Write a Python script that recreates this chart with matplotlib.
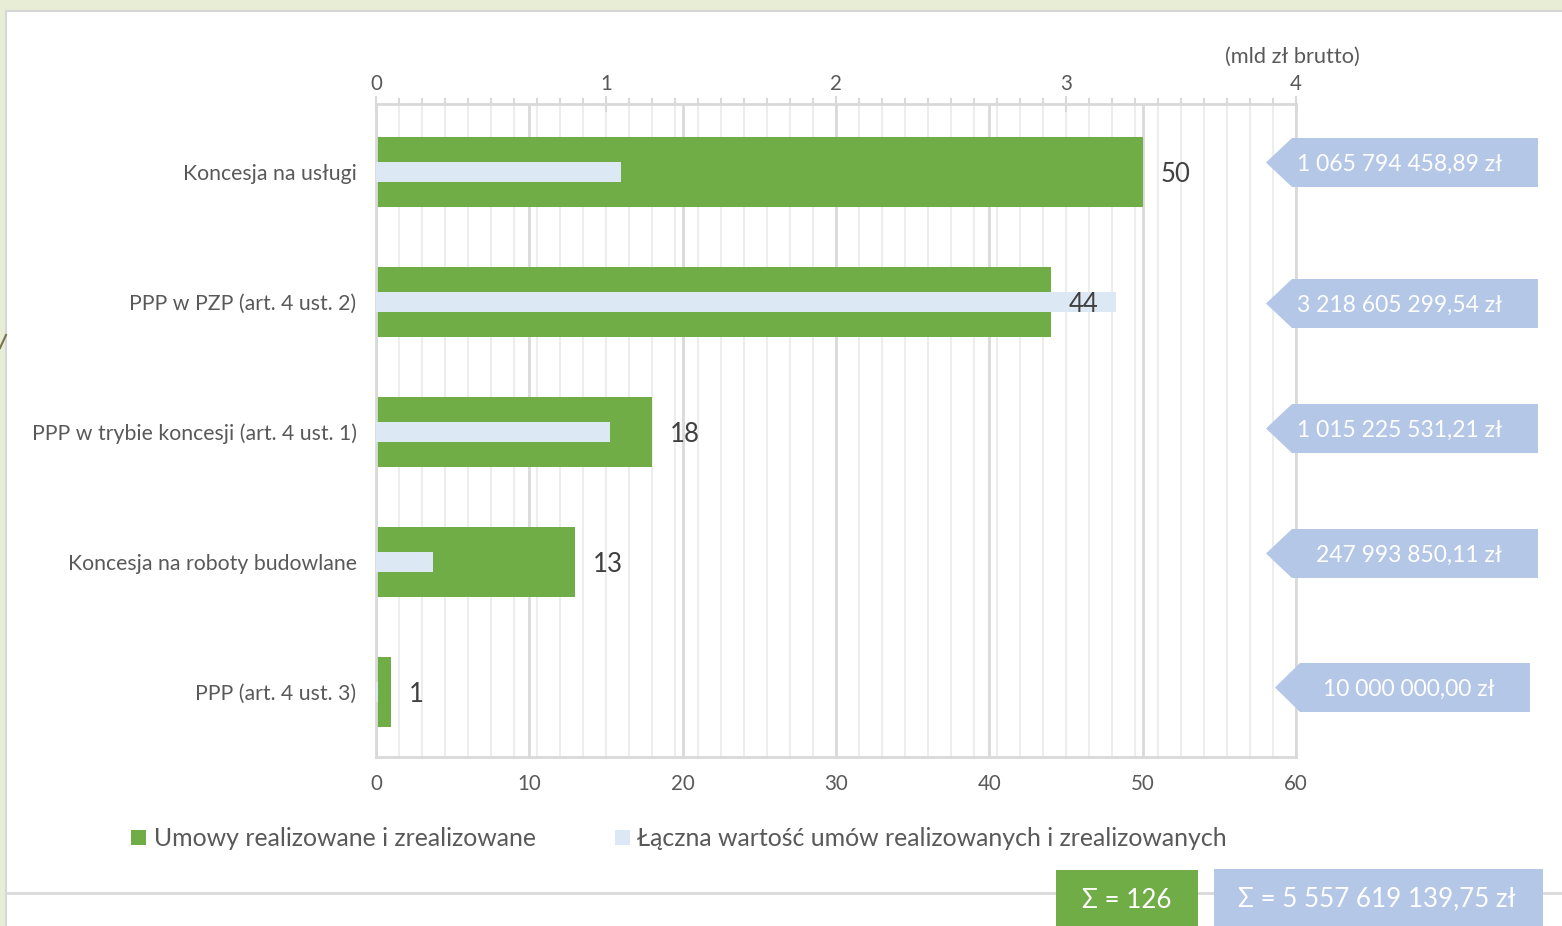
import matplotlib
matplotlib.use("Agg")
import matplotlib.pyplot as plt
from matplotlib.patches import Polygon, Rectangle
from matplotlib.lines import Line2D
import matplotlib.ticker as mt
import matplotlib.transforms as mtrans

# ---------------- data ----------------
categories = [
    "Koncesja na usługi",
    "PPP w PZP (art. 4 ust. 2)",
    "PPP w trybie koncesji (art. 4 ust. 1)",
    "Koncesja na roboty budowlane",
    "PPP (art. 4 ust. 3)",
]
counts = [50, 44, 18, 13, 1]
values_mld = [1.06579445889, 3.21860529954, 1.01522553121, 0.24799385011, 0.01]
value_labels = [
    "1 065 794 458,89 zł",
    "3 218 605 299,54 zł",
    "1 015 225 531,21 zł",
    "247 993 850,11 zł",
    "10 000 000,00 zł",
]
count_ticks = [0, 10, 20, 30, 40, 50, 60]
value_ticks = [0, 1, 2, 3, 4]
legend_labels = ["Umowy realizowane i zrealizowane",
                 "Łączna wartość umów realizowanych i zrealizowanych"]
unit_label = "(mld zł brutto)"
total_count_label = "Σ = 126"
total_value_label = "Σ = 5 557 619 139,75 zł"

# ---------------- style ----------------
GREEN = "#70ad47"
LIGHT = "#dde8f5"
BOXBLUE = "#b4c7e7"
TXT = "#595959"
GRID = "#d9d9d9"
GRIDMIN = "#ededed"
FONT = ["Lato", "DejaVu Sans"]
plt.rcParams["font.family"] = FONT

W, H = 1562, 926
fig = plt.figure(figsize=(W / 100, H / 100), dpi=100)
fig.patch.set_facecolor("#e8eed6")


def fx(x):
    return x / W


def fy(y):
    return 1 - y / H


# white panel
fig.add_artist(Rectangle((fx(6), 0), 1 - fx(6), fy(11), transform=fig.transFigure,
                         facecolor="white", edgecolor="none", zorder=0))
fig.add_artist(Line2D([fx(6), 1], [fy(11), fy(11)], transform=fig.transFigure,
                      color="#d6d6d6", lw=1.5, zorder=0.1))
fig.add_artist(Line2D([fx(6), fx(6)], [fy(11), 0], transform=fig.transFigure,
                      color="#d6d6d6", lw=1.5, zorder=0.1))
fig.add_artist(Line2D([fx(6), 1], [fy(893), fy(893)], transform=fig.transFigure,
                      color="#d9d9d9", lw=2, zorder=0.1))
fig.add_artist(Line2D([fx(0), fx(6)], [fy(348), fy(335)], transform=fig.transFigure,
                      color="#7a7350", lw=1.5, zorder=0.1))

# ---------------- axes ----------------
ax = fig.add_axes([fx(376), fy(757), (1296 - 376) / W, (757 - 104) / H])
ax.set_facecolor("none")
y = list(range(len(categories)))
ax.set_xlim(0, 60)
ax.set_ylim(4.5, -0.523)
ax.set_xticks(count_ticks)
ax.xaxis.set_minor_locator(mt.MultipleLocator(1.5))
ax.grid(which="minor", axis="x", color=GRIDMIN, lw=1.5, zorder=0)
ax.grid(which="major", axis="x", color=GRID, lw=2, zorder=0)
ax.set_axisbelow(True)
ax.barh(y, counts, height=0.54, color=GREEN, zorder=2)
ax.set_yticks(y)
ax.set_yticklabels(categories, fontsize=15.3, color=TXT)
ax.tick_params(axis="y", length=0, pad=14)
ax.tick_params(axis="x", which="both", length=0, pad=12.5, labelsize=14.8, labelcolor=TXT)
for s in ["left", "bottom", "right"]:
    ax.spines[s].set_color(GRID)
    ax.spines[s].set_linewidth(2)
ax.spines["top"].set_visible(False)

ax2 = ax.twiny()
ax2.set_xlim(0, 4)
ax2.barh(y, values_mld, height=0.16, color=LIGHT, zorder=3)
ax2.set_xticks(value_ticks)
ax2.xaxis.set_minor_locator(mt.MultipleLocator(0.1))
ax2.tick_params(axis="x", which="major", direction="inout", length=12, width=1.5,
                color=GRID, pad=1.5, labelsize=14.8, labelcolor=TXT)
ax2.tick_params(axis="x", which="minor", direction="out", length=4, width=1.5, color=GRID)
for s in ["left", "bottom", "right"]:
    ax2.spines[s].set_visible(False)
ax2.spines["top"].set_color(GRID)
ax2.spines["top"].set_linewidth(2)

label_trans = mtrans.offset_copy(ax.transData, fig=fig, x=0, y=-3, units="dots")
for yi, c in zip(y, counts):
    ax2.text(c + 1.15, yi, str(c), transform=label_trans, va="center", ha="left",
             fontsize=18.5, color="#404040", zorder=5)

fig.text(fx(1292), fy(57), unit_label, ha="center", va="center", fontsize=15.7, color=TXT)

# ---------------- value boxes ----------------
box_geom = [  # tip_x, body_left, right, top, bottom, text_right
    (1266, 1292, 1538, 138, 187, 1502),
    (1266, 1292, 1538, 279, 328, 1502),
    (1266, 1292, 1538, 404, 453, 1502),
    (1266, 1292, 1538, 529, 578, 1502),
    (1275, 1300, 1530, 663, 712, 1495),
]
for (tip, bl, r, t, b, tr), lab in zip(box_geom, value_labels):
    cy = (t + b) / 2
    pts = [(fx(tip), fy(cy)), (fx(bl), fy(t)), (fx(r), fy(t)), (fx(r), fy(b)), (fx(bl), fy(b))]
    fig.add_artist(Polygon(pts, closed=True, transform=fig.transFigure,
                           facecolor=BOXBLUE, edgecolor="none", zorder=5))
    fig.text(fx(tr), fy(cy + 2), lab, ha="right", va="center", fontsize=16.5,
             color="white", zorder=6)

# ---------------- legend ----------------
for (sx, tx), col, lab in zip([(131, 154), (615, 637)], [GREEN, LIGHT], legend_labels):
    fig.add_artist(Rectangle((fx(sx), fy(845)), 15 / W, 15 / H, transform=fig.transFigure,
                             facecolor=col, edgecolor="none", zorder=5))
    fig.text(fx(tx), fy(838), lab, ha="left", va="center", fontsize=17.9, color=TXT)

# ---------------- totals ----------------
fig.add_artist(Rectangle((fx(1056), 0), (1198 - 1056) / W, fy(870), transform=fig.transFigure,
                         facecolor=GREEN, edgecolor="none", zorder=5))
fig.text(fx(1127), fy(900), total_count_label, ha="center", va="center", fontsize=18.7,
         color="white", zorder=6)
fig.add_artist(Rectangle((fx(1214), 0), (1543 - 1214) / W, fy(869), transform=fig.transFigure,
                         facecolor=BOXBLUE, edgecolor="none", zorder=5))
fig.text(fx(1377), fy(899), total_value_label, ha="center", va="center", fontsize=18.7,
         color="white", zorder=6)

fig.savefig("out.png", dpi=100, facecolor=fig.get_facecolor())
